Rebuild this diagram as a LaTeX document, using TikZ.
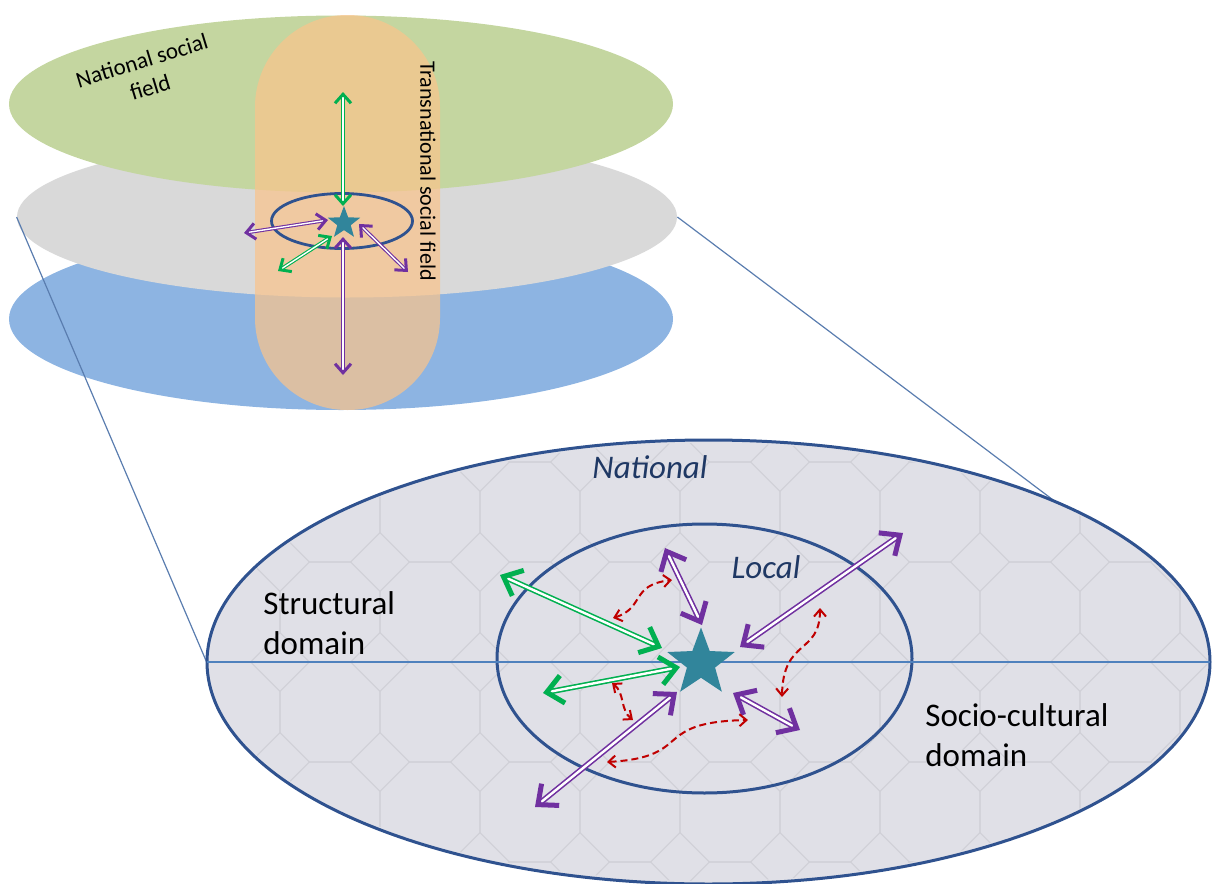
\documentclass[tikz,border=0pt]{standalone}
\usepackage{fontspec}
\setmainfont{Carlito}
\usetikzlibrary{arrows.meta,shapes.geometric}

\definecolor{fieldgreen}{RGB}{196,214,160}
\definecolor{fieldgray}{RGB}{217,217,217}
\definecolor{fieldblue}{RGB}{141,180,226}
\definecolor{transorange}{RGB}{250,196,140}
\definecolor{rimblue}{RGB}{47,82,143}
\definecolor{axisblue}{RGB}{79,129,189}
\definecolor{zoomblue}{RGB}{90,125,175}
\definecolor{startea}{RGB}{49,133,155}
\definecolor{linkgreen}{RGB}{0,176,80}
\definecolor{linkpurple}{RGB}{112,48,160}
\definecolor{tiered}{RGB}{192,0,0}
\definecolor{navytext}{RGB}{31,56,100}
\definecolor{domainfill}{RGB}{224,224,231}
\definecolor{tileline}{RGB}{208,208,215}

\tikzset{
  field/.style={ellipse, inner sep=0pt},
  migrant/.style={star, star points=5, star point ratio=2.4, fill=startea, inner sep=0pt},
  bigtip/.tip={Straight Barb[length=8pt,width=14pt,line width=2.5pt]},
  smalltip/.tip={Straight Barb[length=4.5pt,width=8pt,line width=1.5pt]},
  tietip/.tip={Straight Barb[length=3.5pt,width=6pt,line width=1pt]},
  twoway/.style={double=white, double distance=1.2pt, line width=0.8pt, bigtip-bigtip},
  smallway/.style={double=white, double distance=0.7pt, line width=0.55pt, smalltip-smalltip},
  tie/.style={tiered, line width=1pt, dash pattern=on 3.5pt off 2pt, tietip-tietip},
  bigfont/.style={font=\fontsize{16.5}{20}\selectfont},
  scopefont/.style={text=navytext, font=\fontsize{16.5}{20}\selectfont\itshape}
}

\begin{document}
\begin{tikzpicture}[x=0.5pt,y=-0.5pt]
    \useasboundingbox (0,0) rectangle (1212,884);

    % Stacked social fields
    \node[field, fill=fieldblue, minimum width=332pt, minimum height=91pt] (lowfield) at (341,319) {};
    \node[field, fill=fieldgray, minimum width=330pt, minimum height=80.5pt] (grayfield) at (347,217) {};
    \node[field, fill=fieldgreen, minimum width=332pt, minimum height=88.5pt] (natfield) at (341,104) {};

    % Transnational column
    \node[fill=transorange, fill opacity=0.72, rounded corners=46pt, minimum width=92.5pt, minimum height=197.5pt, inner sep=0pt] (transcol) at (347.5,212.5) {};

    \node[rotate=17, align=center, font=\fontsize{11.5}{14}\selectfont] (natlabel) at (146,74) {National social\\field};
    \node[rotate=-90, font=\fontsize{11}{13}\selectfont] (translabel) at (428,171) {Transnational social field};

    % Small local ring with migrant
    \node[field, draw=rimblue, line width=1.4pt, minimum width=70.5pt, minimum height=27.5pt] (ring) at (342,221) {};
    \node[migrant, minimum size=17pt] (migrant) at (344,223) {};

    \coordinate (sUp) at (343,92);
    \coordinate (sUpIn) at (343,206);
    \coordinate (sDown) at (343,375);
    \coordinate (sDownIn) at (343,237);
    \coordinate (sLeft) at (244,233);
    \coordinate (sLeftIn) at (328,220);
    \coordinate (sSW) at (278,271);
    \coordinate (sSWIn) at (332,236);
    \coordinate (sSE) at (408,272);
    \coordinate (sSEIn) at (359,224);

    \draw[smallway, linkgreen] (sUp) -- (sUpIn);
    \draw[smallway, linkpurple] (sDownIn) -- (sDown);
    \draw[smallway, linkpurple] (sLeft) -- (sLeftIn);
    \draw[smallway, linkgreen] (sSW) -- (sSWIn);
    \draw[smallway, linkpurple] (sSEIn) -- (sSE);

    % Zoom lines
    \node[field, minimum width=501.5pt, minimum height=222pt] (bigfield) at (708.5,662) {};
    \draw[zoomblue, line width=0.6pt] (grayfield.west) -- (bigfield.west);
    \draw[zoomblue, line width=0.6pt] (grayfield.east) -- (bigfield.25);

    % Enlarged field
    \node[field, fill=domainfill, draw=rimblue, line width=1.5pt, minimum width=501.5pt, minimum height=222pt] at (708.5,662) {};
    \begin{scope}
        \clip (708.5,662) ellipse [x radius=499, y radius=219];
        \foreach \i in {0,...,11}
            \foreach \j in {0,...,5}
                \draw[tileline, line width=0.5pt] (\i*100+230,\j*100+412) +(22.5:54.1) -- +(67.5:54.1) -- +(112.5:54.1) -- +(157.5:54.1)
                    -- +(202.5:54.1) -- +(247.5:54.1) -- +(292.5:54.1) -- +(337.5:54.1) -- cycle;
    \end{scope}

    \node[field, draw=rimblue, line width=1.5pt, minimum width=207.5pt, minimum height=134.5pt] (localring) at (704.5,658.5) {};
    \draw[axisblue, line width=1pt] (bigfield.west) -- (bigfield.east);

    \node[scopefont] (natname) at (650,467) {National};
    \node[scopefont] (localname) at (766,567) {Local};
    \node[bigfont, align=left, anchor=north west, inner sep=0pt] (structname) at (263,591) {Structural\\domain};
    \node[bigfont, align=left, anchor=north west, inner sep=0pt] (socioname) at (925,703) {Socio-cultural\\domain};

    \node[migrant, minimum size=35.5pt] (bigmigrant) at (701,663) {};

    \coordinate (gNW) at (500,575);
    \coordinate (gNWIn) at (662,648);
    \coordinate (gW) at (543,693);
    \coordinate (gWIn) at (680,667);
    \coordinate (pN) at (665,548);
    \coordinate (pNIn) at (702,625);
    \coordinate (pNE) at (903,533);
    \coordinate (pNEIn) at (740,647);
    \coordinate (pSW) at (535,807);
    \coordinate (pSWIn) at (677,692);
    \coordinate (pSE) at (800,730);
    \coordinate (pSEIn) at (733,693);

    \draw[twoway, linkgreen] (gNW) -- (gNWIn);
    \draw[twoway, linkgreen] (gW) -- (gWIn);
    \draw[twoway, linkpurple] (pN) -- (pNIn);
    \draw[twoway, linkpurple] (pNEIn) -- (pNE);
    \draw[twoway, linkpurple] (pSWIn) -- (pSW);
    \draw[twoway, linkpurple] (pSEIn) -- (pSE);

    % Ties between domains
    \coordinate (tA) at (613,618);
    \coordinate (tB) at (672,580);
    \coordinate (tC) at (612,683);
    \coordinate (tD) at (633,720);
    \coordinate (tE) at (607,762);
    \coordinate (tF) at (748,720);
    \coordinate (tG) at (820,608);
    \coordinate (tH) at (782,697);

    \draw[tie] (tA) .. controls (645,608) and (630,585) .. (tB);
    \draw[tie] (tC) .. controls (625,693) and (620,710) .. (tD);
    \draw[tie] (tE) .. controls (695,757) and (650,722) .. (tF);
    \draw[tie] (tG) .. controls (820,655) and (783,638) .. (tH);
\end{tikzpicture}
\end{document}
